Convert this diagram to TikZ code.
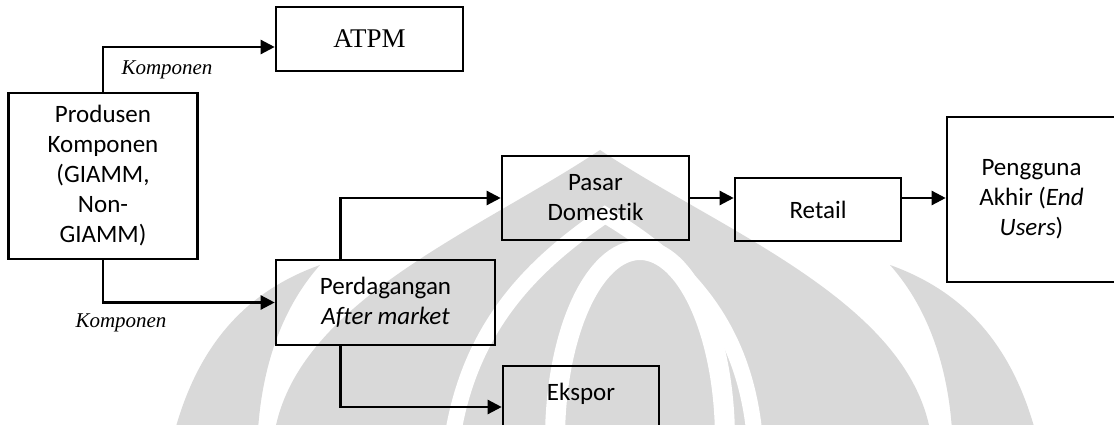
\documentclass[tikz,border=0pt]{standalone}
\usepackage{fontspec}
\setmainfont{Carlito}[Ligatures={NoCommon,NoRare}]
\newfontfamily\romanfont{Liberation Serif}
\usetikzlibrary{arrows.meta}
\begin{document}
\begin{tikzpicture}[x=1pt,y=-1pt,
	box/.style={draw,line width=2.6pt,align=center,inner sep=0pt,font=\fontsize{25}{30}\selectfont},
	arr/.style={line width=2.4pt,-{Triangle[length=14pt,width=14pt]}},
	lbl/.style={font=\romanfont\itshape\fontsize{21}{24}\selectfont},
	wm/.style={fill=black!15}]
	\useasboundingbox (0,0) rectangle (1114,425);
	% logo in the background
	\fill[wm] (175,430) .. controls (200,340) and (250,290) .. (320,265) .. controls (280,310) and (262,370) .. (258,430) -- cycle;
	\fill[wm] (1035,430) .. controls (1010,340) and (960,290) .. (890,265) .. controls (930,310) and (948,370) .. (952,430) -- cycle;
	\fill[wm] (275,430) .. controls (300,300) and (480,230) .. (600,150) .. controls (720,230) and (905,300) .. (930,430) -- cycle;
	\draw[white,line width=16pt] (452,440) .. controls (470,320) and (540,260) .. (605,215) .. controls (680,260) and (745,320) .. (755,440);
	\draw[white,line width=20pt] (640,440) ellipse [x radius=85,y radius=190];
	% boxes
	\node[box,minimum width=187pt,minimum height=64pt,font=\romanfont\fontsize{27}{30}\selectfont] (atpm) at (369.5,39) {ATPM};
	\node[box,minimum width=189pt,minimum height=166pt] (prod) at (103,176) {Produsen\\Komponen\\(GIAMM,\\Non-\\GIAMM)};
	\node[box,minimum width=219pt,minimum height=85pt] (perd) at (385.5,302.5) {Perdagangan\\\textit{After market}};
	\node[box,minimum width=187pt,minimum height=84pt] (pasar) at (595.5,198) {Pasar\\Domestik};
	\node[box,minimum width=166pt,minimum height=63pt] (retail) at (818,209.5) {Retail};
	\node[box,minimum width=169pt,minimum height=165pt] (user) at (1031.5,199.5) {Pengguna\\Akhir (\textit{End}\\\textit{Users})};
	\node[box,minimum width=156pt,minimum height=74pt,text depth=22pt] (ekspor) at (581,403) {Ekspor};
	% labels
	\node[lbl] (komp1) at (167,70) {Komponen};
	\node[lbl] (komp2) at (121,323) {Komponen};
	% arrows
	\draw[arr] (prod.north) |- ([yshift=-8pt]atpm.west);
	\draw[arr] (prod.south) |- (perd.west);
	\draw[arr] ([xshift=-45pt]perd.north) |- (pasar.west);
	\draw[arr] (pasar.east) -- (pasar.east -| retail.west);
	\draw[arr] (pasar.east -| retail.east) -- (pasar.east -| user.west);
	\draw[arr] ([xshift=-45pt]perd.south) |- ([yshift=-4pt]ekspor.west);
\end{tikzpicture}
\end{document}
